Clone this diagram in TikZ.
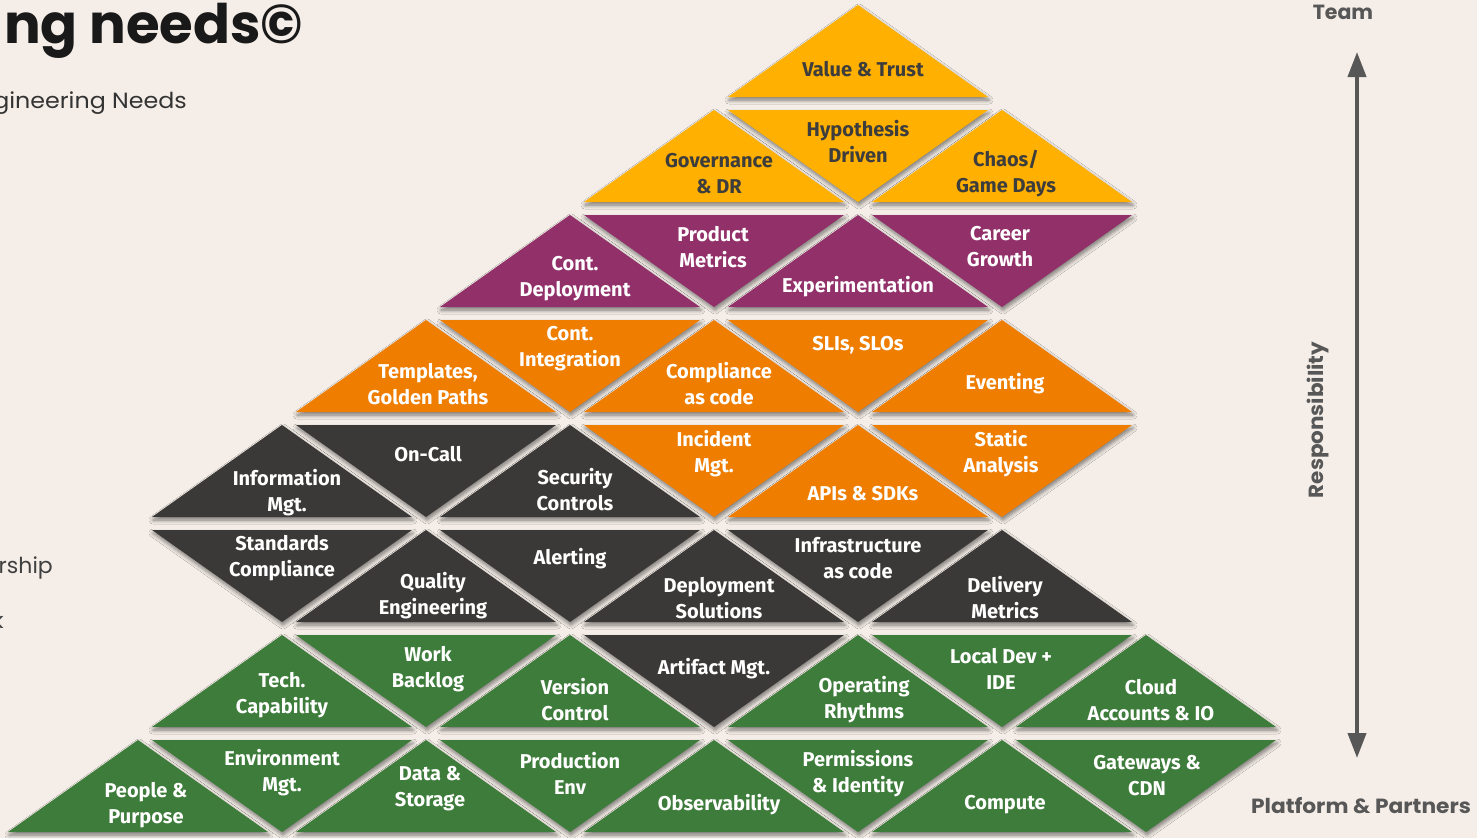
\documentclass[tikz,border=0pt]{standalone}
\usepackage{fontspec}
\setmainfont{Fira Sans}
\newfontfamily\headfont{Poppins}
\usetikzlibrary{shadows.blur,arrows.meta}

\definecolor{bgcol}{HTML}{F5EEE8}
\definecolor{cyellow}{HTML}{FFB000}
\definecolor{cpurple}{HTML}{92306A}
\definecolor{corange}{HTML}{EE7D00}
\definecolor{cdark}{HTML}{3B3938}
\definecolor{cgreen}{HTML}{3E7C3B}
\definecolor{darktext}{HTML}{3D3D3D}
\definecolor{axisgray}{HTML}{575757}

\tikzset{
  tri/.style={blur shadow={shadow xshift=1pt, shadow yshift=-3pt,
      shadow blur radius=4pt, shadow blur steps=6, shadow opacity=50}},
  lbl/.style={text=white, align=center, inner sep=0pt,
      font=\bfseries\fontsize{20}{26}\selectfont},
  lbly/.style={lbl, text=darktext},
  axislbl/.style={text=axisgray, inner sep=0pt,
      font=\headfont\bfseries\fontsize{20.5}{24}\selectfont},
  axisline/.style={draw=axisgray, line width=4pt,
      {Triangle[length=25pt,width=18pt]}-{Triangle[length=25pt,width=18pt]}},
}

% upward / downward triangle in column k of row r
\newcommand{\uptri}[3]{%
  \pgfmathsetmacro\cx{858+144*#1}\pgfmathsetmacro\ty{5+105*#2}%
  \fill[tri, fill=#3] (\cx,\ty) -- (\cx+130,\ty+92) -- (\cx-130,\ty+92) -- cycle;}
\newcommand{\dntri}[3]{%
  \pgfmathsetmacro\cx{858+144*#1}\pgfmathsetmacro\ty{5+105*#2}%
  \fill[tri, fill=#3] (\cx-130,\ty) -- (\cx+130,\ty) -- (\cx,\ty+92) -- cycle;}

\begin{document}
\begin{tikzpicture}[x=1pt, y=-1pt]
  \useasboundingbox (0,0) rectangle (1477,838);
  \clip (0,0) rectangle (1477,838);
  \fill[bgcol] (0,0) rectangle (1477,838);

  % headings at the left edge
  \node[anchor=base west, inner sep=0pt, text=black!90,
        font=\headfont\bfseries\fontsize{54.5}{60}\selectfont] (title) at (4,43) {ng needs©};
  \node[anchor=base east, inner sep=0pt, text=black!80,
        font=\headfont\fontsize{22}{26}\selectfont] (subtitle) at (187,108)
        {\scalebox{1.08}[1]{gineering Needs}};
  \node[anchor=base east, inner sep=0pt, text=black!75,
        font=\headfont\fontsize{22}{26}\selectfont] (side1) at (53,573) {rship};
  \node[anchor=base east, inner sep=0pt, text=black!75,
        font=\headfont\fontsize{22}{26}\selectfont] (side2) at (4,628) {k};

  % row 0
  \uptri{0}{0}{cyellow}
  % row 1
  \uptri{-1}{1}{cyellow} \dntri{0}{1}{cyellow} \uptri{1}{1}{cyellow}
  % row 2
  \uptri{-2}{2}{cpurple} \dntri{-1}{2}{cpurple} \uptri{0}{2}{cpurple} \dntri{1}{2}{cpurple}
  % row 3
  \uptri{-3}{3}{corange} \dntri{-2}{3}{corange} \uptri{-1}{3}{corange}
  \dntri{0}{3}{corange} \uptri{1}{3}{corange}
  % row 4
  \uptri{-4}{4}{cdark} \dntri{-3}{4}{cdark} \uptri{-2}{4}{cdark}
  \dntri{-1}{4}{corange} \uptri{0}{4}{corange} \dntri{1}{4}{corange}
  % row 5
  \dntri{-4}{5}{cdark} \uptri{-3}{5}{cdark} \dntri{-2}{5}{cdark}
  \uptri{-1}{5}{cdark} \dntri{0}{5}{cdark} \uptri{1}{5}{cdark}
  % row 6
  \uptri{-4}{6}{cgreen} \dntri{-3}{6}{cgreen} \uptri{-2}{6}{cgreen} \dntri{-1}{6}{cdark}
  \uptri{0}{6}{cgreen} \dntri{1}{6}{cgreen} \uptri{2}{6}{cgreen}
  % row 7
  \uptri{-5}{7}{cgreen} \dntri{-4}{7}{cgreen} \uptri{-3}{7}{cgreen} \dntri{-2}{7}{cgreen}
  \uptri{-1}{7}{cgreen} \dntri{0}{7}{cgreen} \uptri{1}{7}{cgreen} \dntri{2}{7}{cgreen}

  % labels
  \node[lbly] (value) at (863,69) {Value \& Trust};
  \node[lbly] (gov) at (719,174) {Governance\\\& DR};
  \node[lbly] (hypo) at (858,142) {Hypothesis\\Driven};
  \node[lbly] (chaos) at (1006,174) {Chaos/\\Game Days};

  \node[lbl] (cd) at (575,279) {Cont.\\Deployment};
  \node[lbl] (prodm) at (713,247) {Product\\Metrics};
  \node[lbl] (exper) at (858,287) {Experimentation};
  \node[lbl] (career) at (1000,247) {Career\\Growth};

  \node[lbl] (tmpl) at (428,384) {Templates,\\Golden Paths};
  \node[lbl] (ci) at (570,349) {Cont.\\Integration};
  \node[lbl] (cac) at (719,384) {Compliance\\as code};
  \node[lbl] (sli) at (858,345) {SLIs, SLOs};
  \node[lbl] (event) at (1005,384) {Eventing};

  \node[lbl] (info) at (287,493) {Information\\Mgt.};
  \node[lbl] (oncall) at (428,454) {On-Call};
  \node[lbl] (secc) at (575,490) {Security\\Controls};
  \node[lbl] (incid) at (714,454) {Incident\\Mgt.};
  \node[lbl] (apis) at (863,494) {APIs \& SDKs};
  \node[lbl] (static) at (1001,454) {Static\\Analysis};

  \node[lbl] (std) at (282,558) {Standards\\Compliance};
  \node[lbl] (qual) at (433,596) {Quality\\Engineering};
  \node[lbl] (alert) at (570,559) {Alerting};
  \node[lbl] (depl) at (719,598) {Deployment\\Solutions};
  \node[lbl] (iac) at (858,558) {Infrastructure\\as code};
  \node[lbl] (deliv) at (1005,598) {Delivery\\Metrics};

  \node[lbl] (tech) at (282,695) {Tech.\\Capability};
  \node[lbl] (work) at (428,669) {Work\\Backlog};
  \node[lbl] (vc) at (575,700) {Version\\Control};
  \node[lbl] (artif) at (714,669) {Artifact Mgt.};
  \node[lbl] (oprh) at (864,700) {Operating\\Rhythms};
  \node[lbl] (local) at (1001,669) {Local Dev +\\IDE};
  \node[lbl] (cloud) at (1151,700) {Cloud\\Accounts \& IO};

  \node[lbl] (people) at (146,805) {People \&\\Purpose};
  \node[lbl] (envm) at (282,773) {Environment\\Mgt.};
  \node[lbl] (data) at (430,789) {Data \&\\Storage};
  \node[lbl] (prodenv) at (570,773) {Production\\Env};
  \node[lbl] (obs) at (719,805) {Observability};
  \node[lbl] (perm) at (858,774) {Permissions\\\& Identity};
  \node[lbl] (comp) at (1005,805) {Compute};
  \node[lbl] (gate) at (1147,776) {Gateways \&\\CDN};

  % responsibility axis
  \node[axislbl] (team) at (1343,12) {Team};
  \node[axislbl, rotate=90] (resp) at (1318,420)
        {\scalebox{1.05}[1]{Responsibility}};
  \node[axislbl] (plat) at (1361,806) {\scalebox{1.06}[1]{Platform \& Partners}};
  \coordinate (axtop) at (1357,52);
  \coordinate (axbot) at (1357,758);
  \draw[axisline] (axtop) -- (axbot);
\end{tikzpicture}
\end{document}
